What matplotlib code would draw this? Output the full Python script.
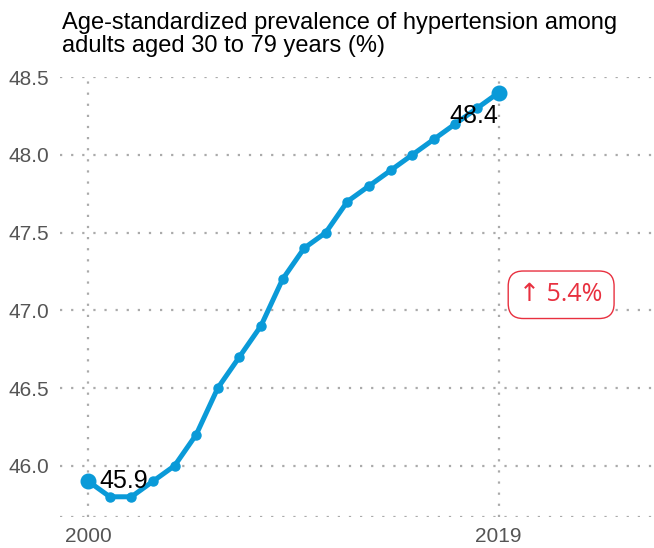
import matplotlib
matplotlib.use("Agg")
import matplotlib.pyplot as plt

years = list(range(2000, 2020))
prevalence = [45.9, 45.8, 45.8, 45.9, 46.0, 46.2, 46.5, 46.7, 46.9, 47.2,
              47.4, 47.5, 47.7, 47.8, 47.9, 48.0, 48.1, 48.2, 48.3, 48.4]
y_ticks = [46.0, 46.5, 47.0, 47.5, 48.0, 48.5]
x_ticks = [2000, 2019]
title = "Age-standardized prevalence of hypertension among\nadults aged 30 to 79 years (%)"
change_label = "\u2191 5.4%"

blue = "#0a9ad8"
red = "#e8303f"
grid_kw = dict(color="#aaaaaa", linestyle=(0, (1, 4)), linewidth=1.6)

plt.rcParams["font.family"] = ["Liberation Sans", "DejaVu Sans"]

fig = plt.figure(figsize=(6.54, 5.48), dpi=100)
ax = fig.add_axes([0.092, 0.0566, 0.908, 0.8025])

for s in ax.spines.values():
    s.set_visible(False)

ax.set_xlim(1998.7, 2026.2)
ax.set_ylim(45.67, 48.5)

for y in y_ticks:
    ax.axhline(y, zorder=0, **grid_kw)
ax.axhline(45.67, zorder=0, **grid_kw)
for x in x_ticks:
    ax.axvline(x, zorder=0, **grid_kw)

ax.plot(years, prevalence, color=blue, linewidth=3.6, marker="o",
        markersize=6.5, solid_capstyle="round", zorder=3)
ax.plot([years[0], years[-1]], [prevalence[0], prevalence[-1]], "o",
        color=blue, markersize=10.5, zorder=4)

ax.text(years[0] + 0.5, prevalence[0], f"{prevalence[0]:.1f}", fontsize=18,
        ha="left", va="center", color="black", zorder=5)
ax.text(years[-1] - 0.02, prevalence[-1] - 0.15, f"{prevalence[-1]:.1f}", fontsize=18,
        ha="right", va="center", color="black", zorder=5)

ax.text(2021.9, 47.1, change_label, fontsize=18, color=red, ha="center", va="center",
        family=["Open Sans", "DejaVu Sans"],
        bbox=dict(boxstyle="round,pad=0.45,rounding_size=0.6", fc="white", ec=red, lw=1.0))

ax.set_yticks(y_ticks)
ax.set_yticklabels([f"{v:.1f}" for v in y_ticks])
ax.set_xticks(x_ticks)
ax.tick_params(axis="both", length=0, labelsize=15, colors="#555555")
ax.tick_params(axis="y", pad=8)
ax.tick_params(axis="x", pad=7)

fig.text(0.095, 0.978, title, fontsize=17, ha="left", va="top", color="black",
         linespacing=1.08)

fig.savefig("out.png", dpi=100)
